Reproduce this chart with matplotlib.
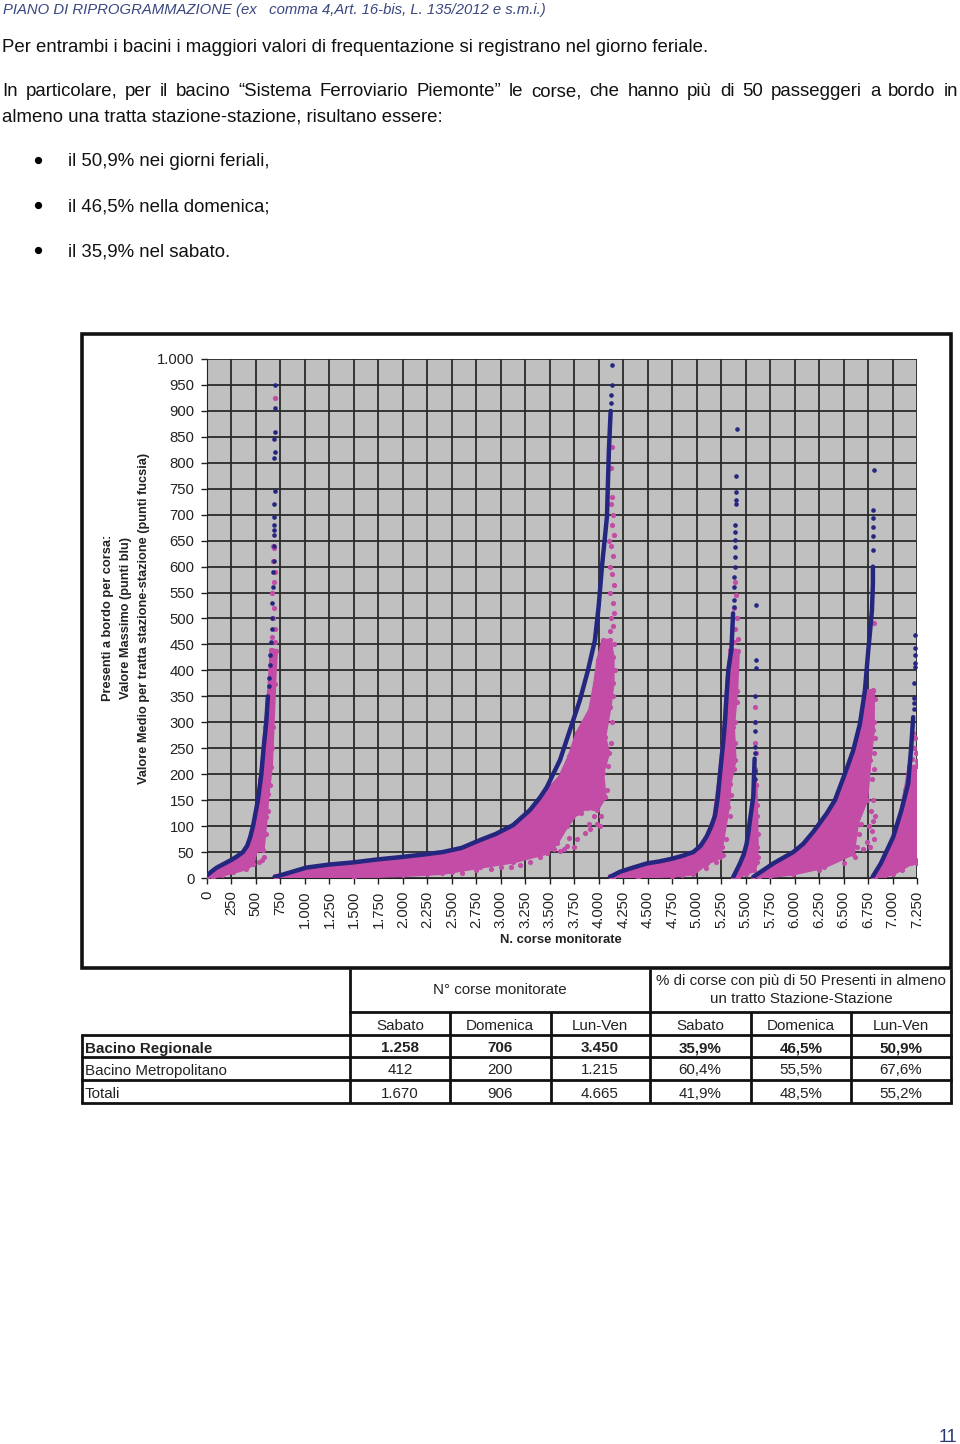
import matplotlib
matplotlib.use("Agg")
import matplotlib.pyplot as plt
from matplotlib.patches import Rectangle

plt.rcParams['font.family'] = ['Liberation Sans', 'DejaVu Sans']

W, H = 960, 1444
BLUE = '#25267f'
PINK = '#c24ca6'
INK = '#222222'

y_ticks = list(range(0, 1001, 50))
y_tick_labels = ['0', '50', '100', '150', '200', '250', '300', '350', '400', '450', '500', '550', '600',
                 '650', '700', '750', '800', '850', '900', '950', '1.000']
x_ticks = list(range(0, 7251, 250))
x_tick_labels = ['0', '250', '500', '750', '1.000', '1.250', '1.500', '1.750', '2.000', '2.250', '2.500',
                 '2.750', '3.000', '3.250', '3.500', '3.750', '4.000', '4.250', '4.500', '4.750', '5.000',
                 '5.250', '5.500', '5.750', '6.000', '6.250', '6.500', '6.750', '7.000', '7.250']

# blue curves: max on board per run, one per block, as (runs, passengers)
max1 = [(0, 5), (50, 13), (100, 20), (180, 28), (250, 35), (310, 42), (367, 50), (410, 62), (440, 78), (470, 100),
        (495, 125), (520, 150), (555, 200), (578, 250), (605, 300), (622, 350)]
max2 = [(690, 2), (800, 8), (1013, 20), (1250, 26), (1490, 30), (1750, 36), (1965, 40), (2200, 45), (2407, 50),
        (2600, 58), (2787, 73), (2950, 85), (3126, 102), (3298, 131), (3400, 155), (3470, 175), (3604, 227),
        (3706, 285), (3808, 343), (3890, 400), (3961, 458), (4000, 525), (4033, 600), (4084, 696), (4104, 825), (4122, 900)]
max3 = [(4115, 2), (4217, 12), (4350, 20), (4489, 28), (4620, 32), (4744, 37), (4860, 43), (4966, 50), (5040, 62),
        (5102, 80), (5150, 100), (5187, 120), (5215, 155), (5238, 200), (5265, 250), (5289, 300), (5305, 350),
        (5323, 400), (5355, 440), (5372, 510)]
max4 = [(5374, 2), (5442, 28), (5480, 45), (5510, 66), (5530, 90), (5544, 111), (5578, 156), (5585, 194), (5592, 230)]
max5 = [(5578, 2), (5782, 28), (5987, 50), (6089, 66), (6191, 89), (6327, 124), (6412, 150), (6514, 201), (6599, 246),
        (6667, 297), (6718, 361), (6752, 438), (6769, 472), (6790, 516), (6800, 568), (6800, 600)]
max6 = [(6796, 2), (6880, 28), (7007, 79), (7090, 130), (7160, 182), (7190, 250), (7211, 310)]

# isolated blue dots above the curves
top1 = [(694, 950), (694, 905), (690, 860), (688, 845), (690, 820), (688, 810), (690, 745), (688, 720), (680, 695),
        (685, 680), (680, 670), (682, 660), (680, 640), (680, 610), (678, 590), (675, 560), (665, 530), (668, 500),
        (660, 480), (650, 455), (645, 430), (640, 410), (630, 385), (628, 370)]
top2 = [(4135, 988), (4132, 950), (4130, 930), (4128, 915)]
top3 = [(5411, 865), (5401, 775), (5398, 744), (5398, 728), (5398, 720), (5392, 680), (5392, 667), (5392, 651),
        (5392, 638), (5388, 618), (5388, 600), (5385, 580), (5385, 560), (5380, 535), (5380, 522)]
top4 = [(5602, 526), (5602, 420), (5602, 405), (5600, 350), (5600, 300), (5600, 284), (5598, 252), (5598, 240),
        (5595, 207), (5592, 190)]
top5 = [(6810, 786), (6805, 710), (6805, 693), (6803, 676), (6800, 659), (6800, 632)]
top6 = [(7229, 468), (7225, 443), (7225, 430), (7225, 415), (7225, 407), (7222, 376), (7222, 347), (7222, 337),
        (7218, 325)]

# pink mass: outline of the dense part of each block
mean1 = [(0, 2), (100, 14), (250, 28), (350, 40), (420, 55), (465, 90), (515, 140), (545, 190), (570, 240), (595, 290),
         (622, 340), (645, 400), (655, 440), (707, 438), (690, 374), (673, 290), (656, 214), (622, 162), (605, 117),
         (571, 53), (503, 53), (469, 27), (400, 18), (265, 11), (150, 5), (61, 2), (0, 0)]
mean2 = [(690, 3), (1000, 17), (1500, 26), (2000, 37), (2400, 46), (2787, 66), (3126, 95), (3298, 124), (3470, 168),
         (3604, 195), (3700, 235), (3778, 279), (3910, 324), (3961, 376), (3992, 420), (4043, 458), (4115, 458),
         (4145, 426), (4145, 376), (4115, 330), (4060, 272), (4100, 241), (4040, 202), (4064, 156), (3982, 131),
         (3880, 135), (3778, 125), (3676, 100), (3573, 67), (3470, 48), (3126, 31), (2787, 21), (2400, 9), (2000, 5),
         (1500, 2), (700, 0)]
mean3 = [(4115, 3), (4217, 10), (4489, 26), (4744, 34), (4960, 46), (5090, 75), (5175, 115), (5228, 190), (5280, 290),
         (5315, 390), (5345, 440), (5425, 438), (5408, 361), (5374, 290), (5391, 227), (5340, 182), (5323, 137),
         (5255, 60), (5238, 40), (5102, 28), (4966, 8), (4750, 4), (4400, 2), (4150, 0)]
mean4 = [(5374, 2), (5442, 26), (5510, 62), (5544, 108), (5575, 150), (5590, 190), (5605, 180), (5612, 120),
         (5618, 60), (5612, 30), (5590, 15), (5500, 8), (5420, 2), (5385, 0)]
mean5 = [(5578, 2), (5782, 25), (5987, 47), (6191, 85), (6327, 120), (6412, 146), (6514, 195), (6599, 240), (6667, 278),
         (6735, 361), (6803, 361), (6803, 285), (6769, 227), (6735, 150), (6640, 105), (6599, 47), (6300, 21), (5987, 8),
         (5750, 3), (5640, 0)]
mean6 = [(6796, 2), (6950, 46), (7060, 100), (7130, 170), (7170, 215), (7250, 215), (7250, 28), (7190, 28), (7007, 8),
         (6820, 0)]

# loose pink dots that sit outside the outlines
spots1 = [(697, 925), (675, 640), (682, 635), (672, 610), (690, 590), (680, 570), (668, 550), (685, 520), (672, 500),
          (690, 480), (665, 465), (695, 455), (580, 40), (560, 35), (530, 30), (600, 85), (625, 130), (640, 180), (665, 250)]
spots2 = [(4140, 830), (4130, 790), (4140, 735), (4128, 720), (4150, 700), (4135, 680), (4155, 660), (4110, 650), (4130, 640),
          (4150, 620), (4115, 600), (4140, 585), (4155, 565), (4120, 550), (4145, 530), (4160, 510), (4125, 500), (4150, 485),
          (4115, 475), (4160, 450), (4165, 400), (4150, 350), (4135, 300), (4130, 260), (4090, 215), (4080, 170), (4020, 120),
          (3985, 105), (3950, 120), (3910, 95), (3860, 87), (3780, 75), (3750, 60), (3700, 78), (3650, 55), (3600, 52),
          (3680, 62), (3820, 125), (3900, 105), (4015, 100), (3300, 30), (3000, 22), (2750, 16), (2500, 12), (2250, 7), (1750, 5),
          (3200, 26), (3400, 40), (3540, 56), (2900, 17), (2600, 10), (3100, 22)]
spots3 = [(5391, 570), (5400, 545), (5385, 520), (5410, 500), (5395, 480), (5418, 460), (5385, 455), (5300, 75), (5340, 120),
          (5350, 160), (5380, 210), (5390, 260), (5395, 300), (5415, 340), (5200, 30), (5100, 20), (4850, 6), (5270, 45)]
spots4 = [(5600, 300), (5598, 260), (5600, 330), (5600, 210), (5605, 180), (5602, 240), (5625, 40), (5630, 85), (5615, 140)]
spots5 = [(6815, 491), (6805, 362), (6820, 345), (6790, 330), (6815, 300), (6825, 270), (6815, 240), (6810, 210), (6795, 190),
          (6800, 150), (6780, 130), (6800, 110), (6790, 90), (6810, 75), (6770, 60), (6740, 70), (6700, 55), (6660, 85),
          (6640, 60), (6680, 105), (6760, 100), (6620, 40), (6500, 28), (6250, 16), (6820, 120)]
spots6 = [(7210, 280), (7225, 270), (7215, 250), (7235, 240), (7200, 230), (7245, 225), (7240, 35), (7100, 15), (6920, 5)]

table_cols = ['Sabato', 'Domenica', 'Lun-Ven', 'Sabato', 'Domenica', 'Lun-Ven']
row_names = ['Bacino Regionale', 'Bacino Metropolitano', 'Totali']
monitored = [['1.258', '706', '3.450'], ['412', '200', '1.215'], ['1.670', '906', '4.665']]
percent = [['35,9%', '46,5%', '50,9%'], ['60,4%', '55,5%', '67,6%'], ['41,9%', '48,5%', '55,2%']]

fig = plt.figure(figsize=(W / 100, H / 100), dpi=100, facecolor='white')

# whole page in pixel coordinates, for the text and the table
page = fig.add_axes([0, 0, 1, 1])
page.set_xlim(0, W)
page.set_ylim(H, 0)
page.axis('off')


def justified(line, x0, x1, y, size):
    words = line.split(' ')
    items = [page.text(0, y, w, fontsize=size, va='center_baseline', color='#111111') for w in words]
    fig.canvas.draw()
    r = fig.canvas.get_renderer()
    widths = [t.get_window_extent(r).width for t in items]
    gap = (x1 - x0 - sum(widths)) / (len(words) - 1)
    x = x0
    for t, w in zip(items, widths):
        t.set_x(x)
        x += w + gap


BODY = 13.45
page.text(3, 10, 'PIANO DI RIPROGRAMMAZIONE (ex   comma 4,Art. 16-bis, L. 135/2012 e s.m.i.)', fontsize=10.75,
          style='italic', color='#3a4680', va='center')
page.text(2, 46, 'Per entrambi i bacini i maggiori valori di frequentazione si registrano nel giorno feriale.',
          fontsize=BODY, color='#111111', va='center_baseline')
justified('In particolare, per il bacino \u201cSistema Ferroviario Piemonte\u201d le corse, che hanno più di 50 '
          'passeggeri a bordo in', 2, 958, 90, BODY)
page.text(2, 115, 'almeno una tratta stazione-stazione, risultano essere:', fontsize=BODY, color='#111111',
          va='center_baseline')
for yy, s in zip([160, 205, 250], ['il 50,9% nei giorni feriali,', 'il 46,5% nella domenica;', 'il 35,9% nel sabato.']):
    page.plot([38], [yy], 'o', color='black', ms=4.2)
    page.text(68, yy, s, fontsize=BODY, color='#111111', va='center_baseline')
page.text(948, 1437, '11', fontsize=13, color='#2a3a70', ha='center', va='center')

# chart frame
page.add_patch(Rectangle((82, 334), 869, 634, fc='white', ec='#111111', lw=2.6))

# table
v_lines = [350, 450, 551, 650, 751, 851, 951]
h_lines = [969, 1012, 1035, 1057, 1080, 1103]
centers = [400, 500, 600, 700, 801, 901]
for x in v_lines:
    top = h_lines[0] if x in (350, 650, 951) else h_lines[1]
    page.plot([x, x], [top, h_lines[-1]], color='#111111', lw=2, solid_capstyle='butt')
page.plot([82, 82], [1035, 1103], color='#111111', lw=2, solid_capstyle='butt')
page.plot([350, 951], [1012, 1012], color='#111111', lw=2)
for yy in h_lines[2:]:
    page.plot([82, 951], [yy, yy], color='#111111', lw=2)
TAB = 10.9
page.text(500, 990, 'N° corse monitorate', fontsize=TAB, ha='center', va='center', color=INK)
page.text(801, 981, '% di corse con più di 50 Presenti in almeno', fontsize=TAB, ha='center', va='center', color=INK)
page.text(801, 999, 'un tratto Stazione-Stazione', fontsize=TAB, ha='center', va='center', color=INK)
for c, s in zip(centers, table_cols):
    page.text(c, 1024, s, fontsize=TAB, ha='center', va='center_baseline', color=INK)
for r, yy in enumerate([1047, 1069, 1092]):
    weight = 'bold' if r == 0 else 'normal'
    page.text(85, yy, row_names[r], fontsize=TAB, va='center_baseline', color=INK, weight=weight)
    for c, s in zip(centers, monitored[r] + percent[r]):
        page.text(c, yy, s, fontsize=TAB, ha='center', va='center_baseline', color=INK, weight=weight)

# the scatter plot
ax = fig.add_axes([207 / W, 1 - 878 / H, 710 / W, 519 / H], facecolor='#c0c0c0')
ax.set_xlim(0, 7250)
ax.set_ylim(0, 1000)
ax.set_xticks(x_ticks)
ax.set_xticklabels(x_tick_labels, rotation=90, fontsize=10.7, color=INK)
ax.set_yticks(y_ticks)
ax.set_yticklabels(y_tick_labels, fontsize=10.7, color=INK)
ax.tick_params(length=4, width=1, color=INK, pad=5)
ax.grid(True, color='#2a2a2a', lw=1.3)
ax.set_axisbelow(True)
for name in ['top', 'right']:
    ax.spines[name].set_visible(False)
for name in ['left', 'bottom']:
    ax.spines[name].set_color(INK)

for block in [mean1, mean2, mean3, mean4, mean5, mean6]:
    mx, my = zip(*block)
    ax.fill(mx, my, color=PINK, lw=2.4, zorder=3, joinstyle='round')
    ax.scatter(mx, my, s=14, color=PINK, lw=0, zorder=3)
for block in [spots1, spots2, spots3, spots4, spots5, spots6]:
    mx, my = zip(*block)
    ax.scatter(mx, my, s=14, color=PINK, lw=0, zorder=3)
for block in [max1, max2, max3, max4, max5, max6]:
    mx, my = zip(*block)
    ax.plot(mx, my, color=BLUE, lw=3.2, zorder=4, solid_capstyle='round', solid_joinstyle='round')
for block in [top1, top2, top3, top4, top5, top6]:
    mx, my = zip(*block)
    ax.scatter(mx, my, s=11, color=BLUE, lw=0, zorder=5)

page.text(561, 940, 'N. corse monitorate', fontsize=9.4, weight='bold', ha='center', va='center', color=INK)
page.text(108, 618, 'Presenti a bordo per corsa:', fontsize=9.2, weight='bold', rotation=90, ha='center', va='center', color=INK)
page.text(126, 618, 'Valore Massimo (punti blu)', fontsize=9.2, weight='bold', rotation=90, ha='center', va='center', color=INK)
page.text(144, 618, 'Valore Medio per tratta stazione-stazione (punti fucsia)', fontsize=9.2, weight='bold', rotation=90, ha='center', va='center', color=INK)

fig.savefig('out.png', dpi=100)
